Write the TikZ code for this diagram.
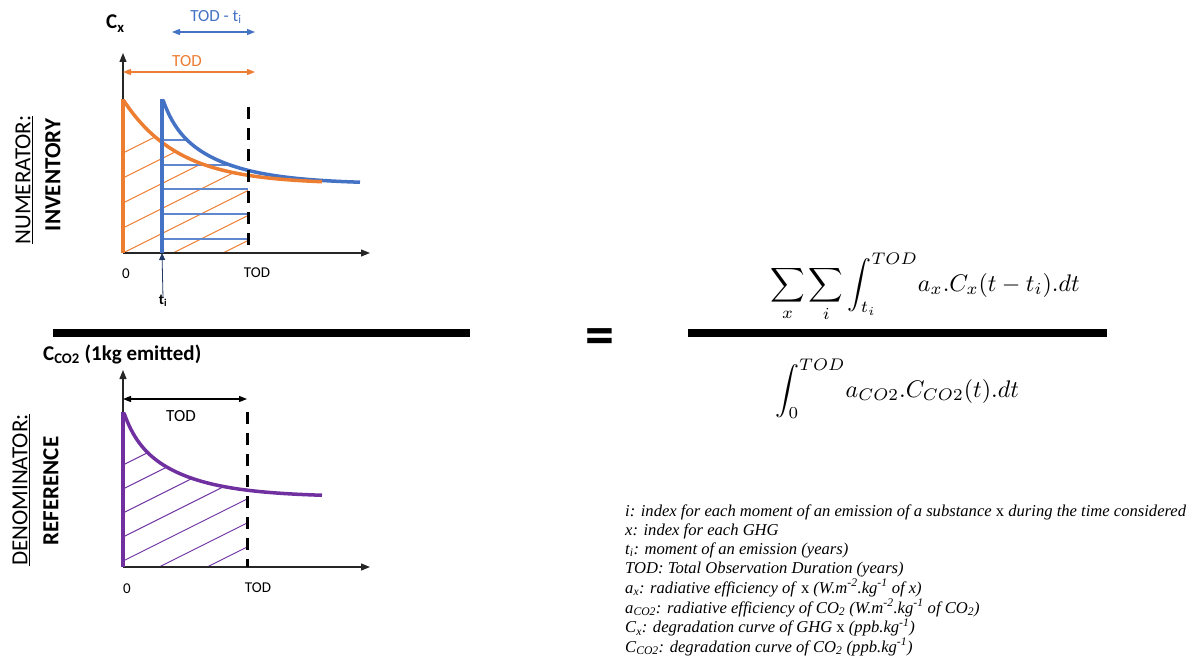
\documentclass[tikz,border=0pt]{standalone}
\usepackage{fontspec}
\setmainfont{Carlito}
\newfontfamily\legendfont{Liberation Serif}
\usetikzlibrary{arrows.meta}
\definecolor{orng}{HTML}{ED7D31}
\definecolor{blu}{HTML}{4472C4}
\definecolor{purp}{HTML}{7030A0}
\definecolor{navy}{HTML}{1F3864}
\begin{document}
\begin{tikzpicture}[x=1pt,y=-1pt,
  axisline/.style={draw=black!85, line width=1.2pt, -{Triangle[length=9pt,width=7pt]}},
  dimline/.style={line width=1.1pt, {Triangle[length=8pt,width=6pt]}-{Triangle[length=8pt,width=6pt]}},
  curveline/.style={line width=3.5pt},
  baseline/.style={line width=3.8pt},
  dashline/.style={black, line width=3pt, dash pattern=on 12pt off 9pt},
  hatchline/.style={line width=0.9pt},
  lbl/.style={font=\fontsize{15}{18}\selectfont, inner sep=0pt},
  dimlbl/.style={font=\fontsize{17}{20}\selectfont, inner sep=0pt},
  ylbl/.style={font=\fontsize{21}{24}\selectfont\bfseries, inner sep=0pt, anchor=base west},
  sidelbl/.style={font=\fontsize{23}{26}\selectfont, inner sep=0pt, rotate=90},
  fracbar/.style={line width=8pt},
  mathlbl/.style={font=\fontsize{10}{12}\selectfont, inner sep=0pt, anchor=base west},
  legend/.style={font=\legendfont\itshape\fontsize{16.6}{19.5}\selectfont, inner sep=0pt, anchor=base west}
]
\useasboundingbox (0,0) rectangle (1200,663);

% ---------------- top graph (numerator) ----------------
\coordinate (o1) at (123,253);
\coordinate (y1) at (123,53);
\coordinate (x1) at (370,253);

\begin{scope}
\clip (123,253) -- (123,101) -- plot[domain=124:248,samples=60] (\x,{184-83*exp(-(\x-124)/55)}) -- (248,253) -- cycle;
\foreach \c in {153,178,...,353} \draw[orng, hatchline] (123,\c) -- ++(200,-100);
\end{scope}
\begin{scope}
\clip (160,253) -- (160,100) -- plot[domain=163:248,samples=60] (\x,{184-20*exp(-(\x-163)/12)-64*exp(-(\x-163)/55)}) -- (248,253) -- cycle;
\foreach \c in {140,165,189,214,239} \draw[blu!85, line width=1.3pt] (160,\c) -- (248,\c);
\end{scope}

\draw[axisline] (o1) -- (y1);
\draw[axisline] (o1) -- (x1);

\draw[blu, curveline] plot[domain=163:360,samples=90] (\x,{184-20*exp(-(\x-163)/12)-64*exp(-(\x-163)/55)});
\draw[orng, curveline] plot[domain=124:322,samples=90] (\x,{184-83*exp(-(\x-124)/55)});
\draw[orng, baseline] (123,99) -- (123,253);
\draw[blu, baseline] (162,99) -- (162,253);
\coordinate (d1t) at (248,107);
\coordinate (d1b) at (248,253);
\draw[dashline] (d1t) -- (d1b);

\coordinate (oa1) at (123,72);
\coordinate (oa2) at (255,72);
\draw[orng, dimline] (oa1) -- (oa2);
\node[dimlbl, text=orng] (todo) at (187,61) {TOD};
\coordinate (ba1) at (172,32);
\coordinate (ba2) at (255,32);
\draw[blu, dimline] (ba1) -- (ba2);
\node[dimlbl, text=blu] (todti) at (216,17) {TOD - t\textsubscript{i}};

\node[ylbl] (cx) at (106,29) {C\textsubscript{x}};
\node[lbl] (zero1) at (126,274) {0};
\node[lbl] (tod1) at (257,273) {TOD};
\node[lbl, font=\fontsize{15}{18}\selectfont\bfseries] (ti) at (163,301) {t\textsubscript{i}};
\coordinate (tiaxis) at (162,253);
\draw[navy, line width=0.8pt, -{Triangle[length=7pt,width=6pt]}] ([yshift=-3pt]ti.north) -- (tiaxis);

\node[sidelbl] (numer) at (24,180) {\underline{NUMERATOR:}};
\node[sidelbl, font=\fontsize{23}{26}\selectfont\bfseries] (inv) at (53,175) {INVENTORY};

% ---------------- bars and equals ----------------
\coordinate (bl1) at (53,333);
\coordinate (bl2) at (470,333);
\draw[fracbar] (bl1) -- (bl2);
\coordinate (br1) at (688,332.5);
\coordinate (br2) at (1107,332.5);
\draw[fracbar] (br1) -- (br2);
\node[font=\fontsize{58}{58}\selectfont\bfseries, inner sep=0pt, anchor=base] (eq) at (600,354) {=};

\node[mathlbl] (numf) at (770,291) {\scalebox{2.4}{$\displaystyle\sum_{x}\sum_{i}\int_{t_i}^{TOD}\! a_x.C_x(t-t_i).dt$}};
\node[mathlbl] (denf) at (775,397) {\scalebox{2.4}{$\displaystyle\int_{0}^{TOD}\! a_{CO2}.C_{CO2}(t).dt$}};

% ---------------- bottom graph (denominator) ----------------
\coordinate (o2) at (123,567);
\coordinate (y2) at (123,370);
\coordinate (x2) at (370,567);

\begin{scope}
\clip (123,567) -- (123,413) -- plot[domain=124:247,samples=60] (\x,{497-20*exp(-(\x-124)/12)-64*exp(-(\x-124)/55)}) -- (247,567) -- cycle;
\foreach \c in {465,489,...,681} \draw[purp, hatchline] (123,\c) -- ++(200,-100);
\end{scope}

\draw[axisline] (o2) -- (y2);
\draw[axisline] (o2) -- (x2);
\draw[purp, curveline] plot[domain=124:322,samples=90] (\x,{497-20*exp(-(\x-124)/12)-64*exp(-(\x-124)/55)});
\draw[purp, baseline] (123,412) -- (123,567);
\coordinate (d2t) at (247,412);
\coordinate (d2b) at (247,567);
\draw[dashline] (d2t) -- (d2b);

\coordinate (ka1) at (123,399);
\coordinate (ka2) at (247,399);
\draw[black, dimline] (ka1) -- (ka2);
\node[dimlbl] (todk) at (181,416) {TOD};

\node[ylbl] (cco2) at (43,360) {C\textsubscript{CO2} (1kg emitted)};
\node[lbl] (zero2) at (127,589) {0};
\node[lbl] (tod2) at (258,588) {TOD};

\node[sidelbl] (denom) at (21,490) {\underline{DENOMINATOR:}};
\node[sidelbl, font=\fontsize{23}{26}\selectfont\bfseries] (ref) at (51,491) {REFERENCE};

% ---------------- legend ----------------
\node[legend] (leg1) at (625,516) {i: index for each moment of an emission of a substance \textup{x} during the time considered};
\node[legend] (leg2) at (625,535) {x: index for each GHG};
\node[legend] (leg3) at (625,554) {t\textsubscript{i}: moment of an emission (years)};
\node[legend] (leg4) at (625,573.5) {TOD: Total Observation Duration (years)};
\node[legend] (leg5) at (625,593) {a\textsubscript{x}: radiative efficiency of \textup{x} (W.m\textsuperscript{-2}.kg\textsuperscript{-1} of x)};
\node[legend] (leg6) at (625,613) {a\textsubscript{CO2}: radiative efficiency of CO\textsubscript{2} (W.m\textsuperscript{-2}.kg\textsuperscript{-1} of CO\textsubscript{2})};
\node[legend] (leg7) at (625,632.5) {C\textsubscript{x}: degradation curve of GHG \textup{x} (ppb.kg\textsuperscript{-1})};
\node[legend] (leg8) at (625,652) {C\textsubscript{CO2}: degradation curve of CO\textsubscript{2} (ppb.kg\textsuperscript{-1})};
\end{tikzpicture}
\end{document}
